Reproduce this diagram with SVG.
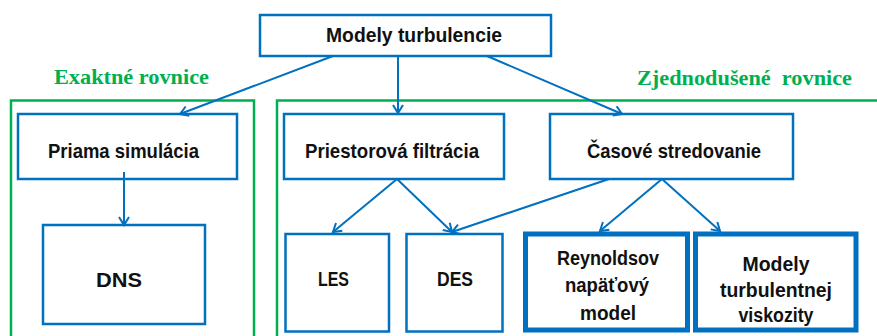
<svg xmlns="http://www.w3.org/2000/svg" width="877" height="336" viewBox="0 0 877 336">
<style>
.box{fill:#fff;stroke:#0070C0;stroke-width:2.5}
.thick{fill:#fff;stroke:#0070C0;stroke-width:5}
.grp{fill:none;stroke:#00B050;stroke-width:2.5}
.t{font-family:"Liberation Sans",Arial,sans-serif;font-weight:bold;font-size:20px;fill:#111;text-anchor:middle}
.big{font-size:21px}
.g{font-family:"Liberation Serif","Times New Roman",serif;font-weight:bold;font-size:21px;fill:#00B050}
.c{fill:none;stroke:#0070C0;stroke-width:2;marker-end:url(#v)}
</style>
<defs>
<marker id="v" markerUnits="userSpaceOnUse" markerWidth="14" markerHeight="14" viewBox="-10 -7 12 14" refX="0" refY="0" orient="auto">
<path d="M-8,-5 L0,0 L-8,5" fill="none" stroke="#0070C0" stroke-width="2"/>
</marker>
</defs>
<g id="group-exact">
<rect class="grp" x="11" y="100.5" width="243" height="260"/>
<text class="g" x="54" y="84" textLength="155" lengthAdjust="spacingAndGlyphs">Exaktné rovnice</text>
</g>
<g id="group-simplified">
<rect class="grp" x="277" y="100.5" width="640" height="260"/>
<text class="g" x="637" y="85" textLength="215" lengthAdjust="spacingAndGlyphs" xml:space="preserve">Zjednodušené  rovnice</text>
</g>
<g id="modely-turbulencie">
<rect class="box" x="260" y="15" width="291" height="41"/>
<text class="t big" x="414" y="42" textLength="176" lengthAdjust="spacingAndGlyphs">Modely turbulencie</text>
</g>
<g id="priama-simulacia">
<rect class="box" x="18" y="114" width="219" height="65"/>
<text class="t big" x="123.5" y="158" textLength="151" lengthAdjust="spacingAndGlyphs">Priama simulácia</text>
</g>
<g id="priestorova-filtracia">
<rect class="box" x="284" y="114" width="220" height="65"/>
<text class="t big" x="392" y="158" textLength="174" lengthAdjust="spacingAndGlyphs">Priestorová filtrácia</text>
</g>
<g id="casove-stredovanie">
<rect class="box" x="550" y="114" width="243" height="65"/>
<text class="t big" x="674" y="158" textLength="174" lengthAdjust="spacingAndGlyphs">Časové stredovanie</text>
</g>
<g id="dns">
<rect class="box" x="43" y="225" width="162" height="99"/>
<text class="t big" x="119" y="287" textLength="46" lengthAdjust="spacingAndGlyphs">DNS</text>
</g>
<g id="les">
<rect class="box" x="285.5" y="234" width="103.5" height="97.5"/>
<text class="t big" x="333.5" y="286" textLength="31" lengthAdjust="spacingAndGlyphs">LES</text>
</g>
<g id="des">
<rect class="box" x="406.5" y="234" width="96" height="97.5"/>
<text class="t big" x="455" y="286" textLength="36" lengthAdjust="spacingAndGlyphs">DES</text>
</g>
<g id="reynoldsov">
<rect class="thick" x="525.5" y="234" width="162" height="96"/>
<text class="t" x="608" y="265" textLength="102" lengthAdjust="spacingAndGlyphs">Reynoldsov</text>
<text class="t" x="607" y="292" textLength="84" lengthAdjust="spacingAndGlyphs">napäťový</text>
<text class="t" x="608" y="320" textLength="56" lengthAdjust="spacingAndGlyphs">model</text>
</g>
<g id="turbulentna-viskozita">
<rect class="thick" x="695.5" y="234" width="160.5" height="96"/>
<text class="t" x="776" y="271" textLength="67" lengthAdjust="spacingAndGlyphs">Modely</text>
<text class="t" x="776" y="297" textLength="112" lengthAdjust="spacingAndGlyphs">turbulentnej</text>
<text class="t" x="776" y="322" textLength="75" lengthAdjust="spacingAndGlyphs">viskozity</text>
</g>
<g id="connectors">
<line class="c" x1="333" y1="56" x2="180" y2="114"/>
<line class="c" x1="398" y1="56" x2="398" y2="113"/>
<line class="c" x1="487" y1="56" x2="622" y2="114"/>
<line class="c" x1="124" y1="172" x2="124" y2="225"/>
<line class="c" x1="397" y1="179" x2="333" y2="232"/>
<line class="c" x1="397" y1="179" x2="452" y2="232"/>
<line class="c" x1="609" y1="179" x2="452" y2="232"/>
<line class="c" x1="662" y1="179" x2="600" y2="231"/>
<line class="c" x1="662" y1="179" x2="720" y2="231"/>
</g>
</svg>
